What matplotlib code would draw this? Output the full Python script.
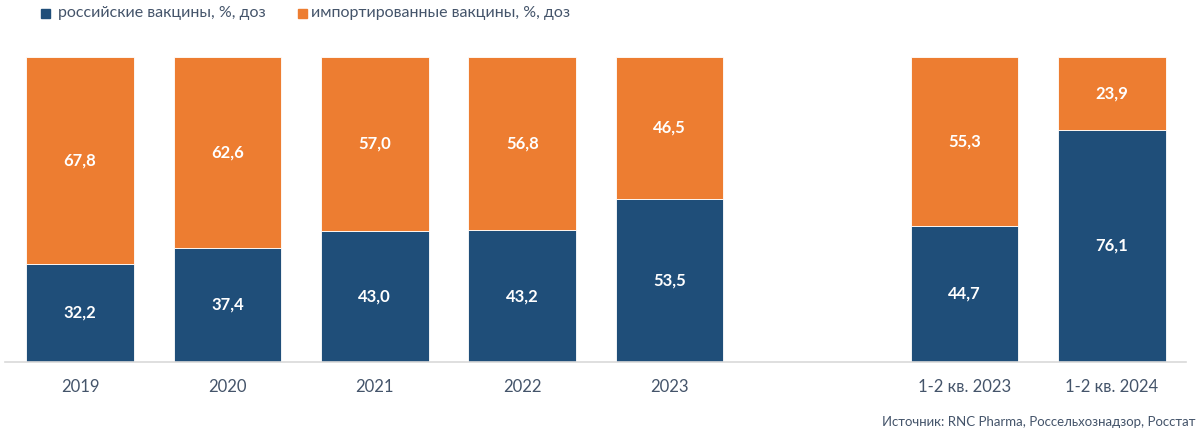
import matplotlib.pyplot as plt
from matplotlib.patches import Rectangle

plt.rcParams["font.family"] = ["Lato", "DejaVu Sans"]

categories = ["2019", "2020", "2021", "2022", "2023", "1-2 кв. 2023", "1-2 кв. 2024"]
positions = [0, 1, 2, 3, 4, 6, 7]
russian = [32.2, 37.4, 43.0, 43.2, 53.5, 44.7, 76.1]
imported = [67.8, 62.6, 57.0, 56.8, 46.5, 55.3, 23.9]

navy = "#1F4E79"
orange = "#ED7D31"
tick_color = "#44546A"

fig = plt.figure(figsize=(12, 4.34), dpi=100)
ax = fig.add_axes([0.004, 0.166, 0.984, 0.703])

ax.bar(positions, russian, width=0.73, color=navy, edgecolor="white", linewidth=0.6)
ax.bar(positions, imported, width=0.73, bottom=russian, color=orange,
       edgecolor="white", linewidth=0.6)

for x, r, i in zip(positions, russian, imported):
    ax.text(x, r / 2, f"{r:.1f}".replace(".", ","), ha="center", va="center",
            color="white", fontsize=12, fontweight="bold")
    ax.text(x, r + i / 2, f"{i:.1f}".replace(".", ","), ha="center", va="center",
            color="white", fontsize=12, fontweight="bold")

ax.set_xlim(-0.51, 7.5)
ax.set_ylim(0, 100)
ax.set_xticks(positions)
ax.set_xticklabels(categories, fontsize=12, color=tick_color)
ax.tick_params(axis="x", length=0, pad=12)
ax.set_yticks([])
for side in ["top", "right", "left"]:
    ax.spines[side].set_visible(False)
ax.spines["bottom"].set_color("#D9D9D9")
ax.spines["bottom"].set_linewidth(1.2)

# legend drawn by hand at top left
fig.patches.append(Rectangle((41 / 1200, 1 - 17.5 / 434), 9 / 1200, 9 / 434,
                             transform=fig.transFigure, color=navy))
fig.text(58 / 1200, 1 - 13 / 434, "российские вакцины, %, доз", fontsize=11.5,
         color=tick_color, va="center")
fig.patches.append(Rectangle((298 / 1200, 1 - 17.5 / 434), 9 / 1200, 9 / 434,
                             transform=fig.transFigure, color=orange))
fig.text(311 / 1200, 1 - 13 / 434, "импортированные вакцины, %, доз", fontsize=11.5,
         color=tick_color, va="center")

fig.text(1195 / 1200, 1 - 422 / 434, "Источник: RNC Pharma, Россельхознадзор, Росстат",
         fontsize=9.5, color=tick_color, ha="right", va="center")

fig.savefig("out.png", dpi=100)
